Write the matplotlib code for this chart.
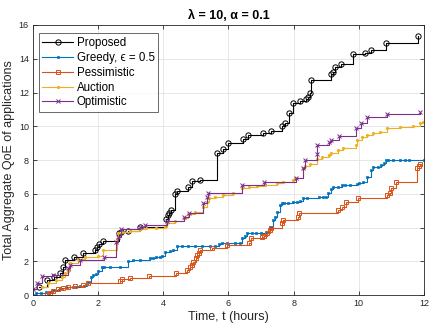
import matplotlib
matplotlib.use("Agg")
import matplotlib.pyplot as plt

plt.rcParams['font.family'] = ['Liberation Sans', 'DejaVu Sans']

# Proposed
prop_t = [0.17, 0.42, 0.65, 0.83, 0.93, 0.99, 1.26, 1.54, 1.91, 1.95, 2.03, 2.16, 2.65, 2.69, 2.93, 3.28,
          4.07, 4.13, 4.17, 4.23, 4.37, 4.43, 4.75, 4.89, 5.13, 5.64, 5.84, 6.00, 6.46, 6.61, 7.07, 7.30,
          7.63, 7.72, 7.87, 7.99, 8.19, 8.38, 8.45, 8.50, 8.53, 9.15, 9.20, 9.27, 9.46, 9.83, 10.19, 10.36,
          10.83, 11.81]
prop_q = [0.46, 0.89, 1.05, 1.32, 1.68, 2.07, 2.23, 2.51, 2.67, 2.83, 3.02, 3.22, 3.65, 3.73, 3.81, 4.05,
          4.48, 4.72, 4.88, 5.04, 5.98, 6.16, 6.38, 6.73, 6.84, 8.44, 8.63, 9.03, 9.22, 9.46, 9.60, 9.69,
          10.01, 10.17, 10.77, 11.40, 11.50, 11.60, 11.75, 12.00, 12.74, 13.10, 13.23, 13.53, 13.67, 14.28,
          14.36, 14.54, 14.95, 15.37]

# Greedy, eps = 0.5
greedy_t = [0.0, 0.10, 0.25, 0.41, 0.61, 0.82, 1.02, 1.23, 1.43, 1.64, 1.69, 1.77, 1.84, 1.94, 2.00, 2.11,
            2.18, 2.35, 2.68, 2.93, 3.07, 3.28, 3.59, 3.69, 3.79, 3.90, 3.95, 4.05, 4.20, 4.31, 4.41, 4.56,
            4.77, 4.98, 5.18, 5.43, 5.59, 5.72, 5.80, 5.95, 6.20, 6.35, 6.40, 6.51, 6.58, 6.71, 6.86, 7.00,
            7.17, 7.27, 7.38, 7.43, 7.50, 7.58, 7.63, 7.70, 7.84, 7.97, 8.09, 8.19, 8.30, 8.40, 8.77, 8.90,
            8.99, 9.07, 9.14, 9.22, 9.37, 9.47, 9.58, 9.73, 9.93, 10.00, 10.14, 10.24, 10.37, 10.45, 10.60,
            10.68, 10.77, 10.83, 10.90, 11.06, 11.26, 11.42, 11.54, 12.0]
greedy_q = [0.0, 0.10, 0.14, 0.20, 0.30, 0.39, 0.46, 0.50, 0.53, 0.59, 0.79, 1.09, 1.19, 1.24, 1.40, 1.64,
            1.66, 1.66, 1.66, 2.03, 2.05, 2.07, 2.17, 2.21, 2.23, 2.27, 2.31, 2.57, 2.59, 2.67, 2.90, 2.91,
            2.91, 2.91, 2.92, 2.92, 2.93, 3.02, 3.08, 3.08, 3.08, 3.10, 3.36, 3.50, 3.65, 3.65, 3.66, 3.70,
            3.75, 4.05, 4.44, 4.60, 4.94, 5.33, 5.47, 5.47, 5.48, 5.49, 5.50, 5.55, 5.77, 5.77, 5.78, 5.78,
            5.79, 6.03, 6.26, 6.38, 6.39, 6.50, 6.50, 6.51, 6.58, 6.66, 6.70, 7.01, 7.41, 7.57, 7.58, 7.70,
            7.80, 8.00, 8.00, 8.00, 8.00, 8.01, 8.01, 8.02]

# Pessimistic
pess_t = [0.42, 0.52, 0.62, 0.78, 0.93, 1.08, 1.29, 1.54, 1.68, 2.67, 2.72, 2.98, 3.56, 4.39, 4.74, 4.82,
          4.87, 4.92, 5.00, 5.04, 5.09, 5.13, 5.48, 5.97, 6.64, 6.68, 7.02, 7.09, 7.17, 7.27, 7.30, 7.63,
          7.66, 8.12, 8.17, 9.37, 9.47, 9.61, 9.99, 10.86, 10.95, 10.98, 11.14, 11.78, 11.85, 11.88]
pess_q = [0.04, 0.14, 0.25, 0.34, 0.39, 0.46, 0.53, 0.61, 0.73, 0.83, 0.93, 0.99, 1.13, 1.28, 1.48, 1.68,
          1.78, 1.98, 2.17, 2.37, 2.51, 2.67, 2.76, 2.96, 3.06, 3.36, 3.42, 3.50, 3.65, 3.85, 3.95, 4.28,
          4.44, 4.60, 4.84, 5.04, 5.24, 5.53, 5.73, 5.93, 6.05, 6.32, 6.72, 7.51, 7.63, 7.74]

# Auction
auct_t = [0.27, 0.47, 0.72, 0.88, 0.98, 1.08, 1.13, 1.39, 1.59, 2.00, 2.16, 2.57, 2.62, 2.72, 2.97, 3.28,
          3.48, 3.79, 4.05, 4.10, 4.36, 4.62, 4.77, 4.97, 5.23, 5.33, 5.40, 5.59, 5.84, 6.15, 6.41, 6.64,
          6.87, 7.12, 7.48, 7.68, 7.99, 8.05, 8.28, 8.35, 8.50, 8.71, 8.87, 9.09, 9.16, 9.37, 9.53, 9.91,
          9.93, 10.09, 10.24, 10.45, 10.65, 10.86, 11.26, 11.67, 11.88, 11.98]
auct_q = [0.46, 0.69, 0.89, 1.09, 1.32, 1.44, 1.88, 2.11, 2.23, 2.31, 2.67, 3.30, 3.65, 3.75, 3.81, 3.89,
          3.95, 3.99, 4.05, 4.28, 4.40, 4.54, 4.80, 4.94, 5.24, 5.53, 5.73, 5.83, 5.93, 6.03, 6.32, 6.38,
          6.46, 6.52, 6.62, 6.72, 6.81, 6.91, 7.51, 7.64, 7.78, 8.08, 8.16, 8.30, 8.39, 8.59, 8.69, 8.89,
          9.19, 9.35, 9.48, 9.58, 9.68, 9.88, 9.94, 10.00, 10.17, 10.27]

# Optimistic
opt_t = [0.0, 0.13, 0.27, 0.62, 1.08, 1.13, 1.44, 2.18, 2.54, 2.62, 2.71, 3.28, 3.44, 4.10, 4.63, 4.80,
         5.23, 5.33, 5.38, 6.41, 7.09, 8.07, 8.28, 8.35, 8.71, 8.73, 9.09, 9.16, 9.40, 9.91, 10.06, 10.24,
         10.86, 11.88]
opt_q = [0.34, 0.69, 1.13, 1.19, 1.58, 1.78, 2.07, 2.27, 3.16, 3.45, 3.92, 4.01, 4.17, 4.40, 4.64, 4.88,
         5.48, 5.83, 6.06, 6.52, 6.72, 6.91, 7.51, 8.00, 8.38, 8.86, 9.08, 9.21, 9.42, 9.88, 10.20, 10.52,
         10.72, 10.86]

series = [
    ("Proposed", prop_t, prop_q, "black", dict(marker='o', ms=3.8, mfc='none', mew=0.7)),
    ("Greedy, ϵ = 0.5", greedy_t, greedy_q, "#0072BD", dict(marker='s', ms=2.0, mfc="#0072BD", mew=0.5)),
    ("Pessimistic", pess_t, pess_q, "#D95319", dict(marker='s', ms=3.0, mfc='none', mew=0.7)),
    ("Auction", auct_t, auct_q, "#EDB120", dict(marker='.', ms=2.6)),
    ("Optimistic", opt_t, opt_q, "#7E2F8E", dict(marker='x', ms=3.0, mew=0.7)),
]

fig = plt.figure(figsize=(4.43, 3.32), dpi=100)
ax = fig.add_axes([0.0745, 0.1114, 0.8825, 0.8133])

for name, t, q, c, mk in series:
    ax.step(t, q, where='post', color=c, lw=0.8, label=name, **mk)

ax.set_xlim(0, 12)
ax.set_ylim(0, 16)
ax.set_xticks(range(0, 13, 2))
ax.set_yticks(range(0, 17, 2))
ax.grid(True, color='#e3e3e3', lw=0.6)
ax.set_axisbelow(True)
ax.tick_params(direction='in', length=3, width=0.6, labelsize=6.5, colors='#262626',
               top=True, right=True, pad=3)
for s in ax.spines.values():
    s.set_color('#262626')
    s.set_linewidth(0.6)

ax.set_xlabel("Time, t (hours)", fontsize=9, color='#262626', labelpad=2)
ax.set_ylabel("Total Aggregate QoE of applications", fontsize=9, color='#262626', labelpad=3)
ax.set_title("λ = 10, α = 0.1", fontsize=9, fontweight='bold', pad=4)

leg = ax.legend(loc='upper left', fontsize=8.3, frameon=True, fancybox=False, borderpad=0.3,
                labelspacing=0.25, handlelength=2.7, handletextpad=0.3, borderaxespad=0.5,
                bbox_to_anchor=(0.0, 0.99))
leg.get_frame().set_edgecolor('#262626')
leg.get_frame().set_linewidth(0.6)

fig.savefig("out.png", dpi=100)
